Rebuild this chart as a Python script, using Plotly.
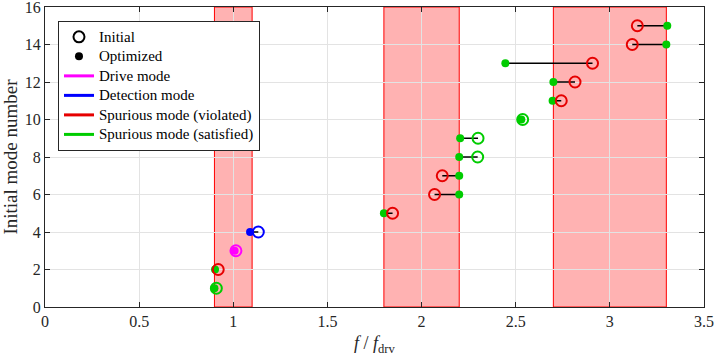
import plotly.graph_objects as go

# data
mode = list(range(1, 16))
f_init = [0.91, 0.92, 1.014, 1.133, 1.846, 2.069, 2.11, 2.298, 2.30, 2.537, 2.742, 2.815, 2.908, 3.119, 3.146]
f_opt = [0.90, 0.903, 1.007, 1.089, 1.80, 2.20, 2.20, 2.20, 2.205, 2.53, 2.696, 2.70, 2.445, 3.30, 3.305]
init_status = ["sat", "viol", "drive", "det", "viol", "viol", "viol", "sat", "sat", "sat",
               "viol", "viol", "viol", "viol", "viol"]
opt_status = ["sat", "sat", "drive", "det"] + ["sat"] * 11
band_lo = [0.9, 1.8, 2.7]
band_hi = [1.1, 2.2, 3.3]
x_ticks = [0, 0.5, 1, 1.5, 2, 2.5, 3, 3.5]
y_ticks = [0, 2, 4, 6, 8, 10, 12, 14, 16]

colors = {"drive": "#ff00ff", "det": "#0000ff", "viol": "#e60000", "sat": "#00cc00"}
names = {"drive": "Drive mode", "det": "Detection mode",
         "viol": "Spurious mode (violated)", "sat": "Spurious mode (satisfied)"}
FONT = "Liberation Serif"

# legend rows are spaced from legend font size, so text is enlarged via span
def leg(s):
    return f'<span style="font-size:15px">{s}</span>'

fig = go.Figure()

# connecting lines
lx, ly = [], []
for a, b, m in zip(f_init, f_opt, mode):
    lx += [a, b, None]
    ly += [m, m, None]
fig.add_trace(go.Scatter(x=lx, y=ly, mode="lines", line=dict(color="black", width=1.5),
                         showlegend=False, hoverinfo="skip"))

# optimized (filled) first, then initial (open) on top
fig.add_trace(go.Scatter(x=f_opt, y=mode, mode="markers", showlegend=False,
                         marker=dict(size=8, color=[colors[s] for s in opt_status], line=dict(width=0))))
fig.add_trace(go.Scatter(x=f_init, y=mode, mode="markers", showlegend=False,
                         marker=dict(size=11, symbol="circle-open",
                                     color=[colors[s] for s in init_status], line=dict(width=2))))

# legend entries
fig.add_trace(go.Scatter(x=[None], y=[None], mode="markers", name=leg("Initial"),
                         marker=dict(size=11, symbol="circle-open", color="black", line=dict(width=2))))
fig.add_trace(go.Scatter(x=[None], y=[None], mode="markers", name=leg("Optimized"),
                         marker=dict(size=8, color="black")))
for k in ["drive", "det", "viol", "sat"]:
    fig.add_trace(go.Scatter(x=[None], y=[None], mode="lines", name=leg(names[k]),
                             line=dict(color=colors[k], width=3)))

# forbidden bands
for lo, hi in zip(band_lo, band_hi):
    fig.add_shape(type="rect", xref="x", yref="paper", x0=lo, x1=hi, y0=0, y1=1,
                  fillcolor="rgba(255,0,0,0.3)", line=dict(color="red", width=1), layer="below")

axis_common = dict(showgrid=True, gridcolor="#e3e3e3", gridwidth=1, zeroline=False,
                   showline=True, linecolor="#262626", linewidth=1, mirror="ticks",
                   ticks="inside", ticklen=5, tickcolor="#262626", automargin=False,
                   ticklabeloverflow="allow",
                   tickfont=dict(family=FONT, size=16, color="#262626"))

fig.update_xaxes(range=[0, 3.5001], tickvals=x_ticks, ticktext=[f"{v:g}" for v in x_ticks],
                 **axis_common)
fig.update_yaxes(range=[0, 16.001], tickvals=y_ticks, ticktext=[str(v) for v in y_ticks],
                 **axis_common,
                 title=dict(text="Initial mode number",
                            font=dict(family=FONT, size=19, color="#262626"), standoff=4))

# x-axis title placed as an annotation below the tick labels
fig.add_annotation(text="<i>f</i> / <i>f</i><sub>drv</sub>", xref="paper", yref="paper",
                   x=0.5, y=0, yanchor="middle", yshift=-37, showarrow=False,
                   font=dict(family=FONT, size=18, color="#262626"))

fig.update_layout(
    width=714, height=355,
    margin=dict(l=45, r=10, t=7, b=48),
    plot_bgcolor="white", paper_bgcolor="white",
    font=dict(family=FONT, size=15, color="black"),
    legend=dict(x=0.0197, y=0.953, xanchor="left", yanchor="top",
                bgcolor="white", bordercolor="#262626", borderwidth=1,
                font=dict(family=FONT, size=12.7, color="black"),
                itemwidth=30, tracegroupgap=0),
)

# drop the default page margin so the figure sits at the window's corner
fig.write_html("out.html", config={"displayModeBar": False},
               post_script="document.body.style.margin='0';")
